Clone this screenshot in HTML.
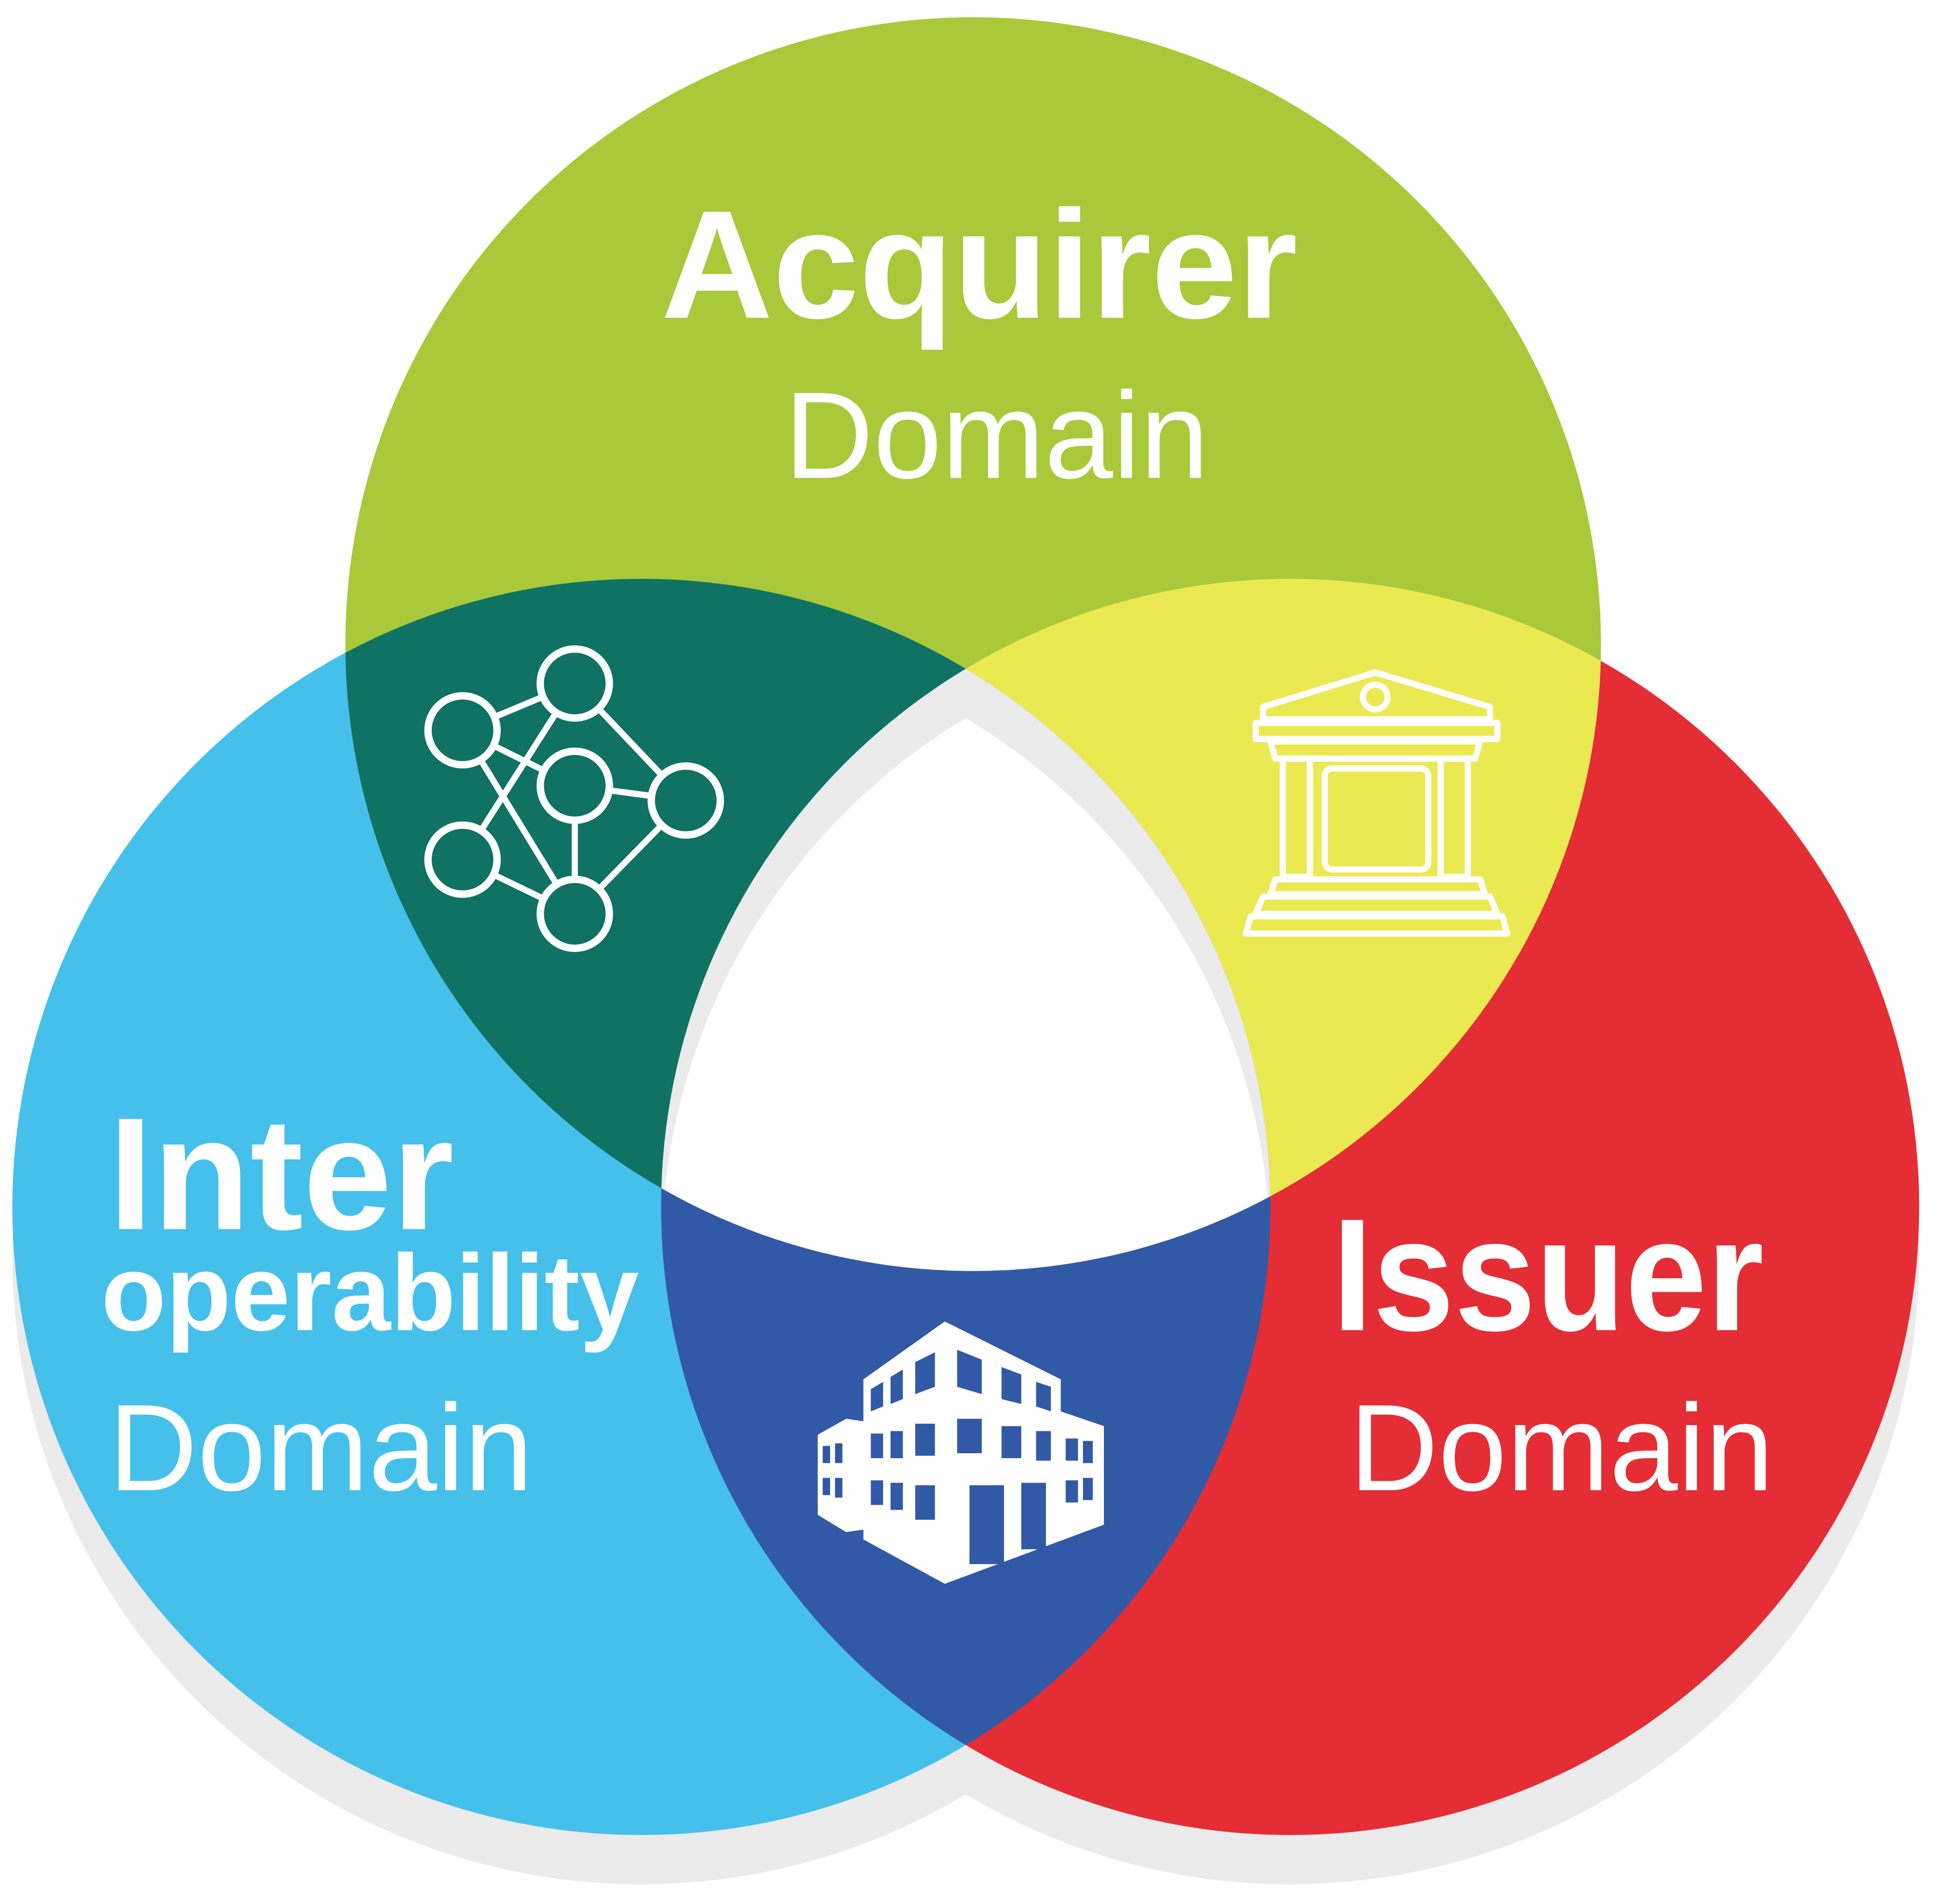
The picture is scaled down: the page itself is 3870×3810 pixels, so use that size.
<!DOCTYPE html>
<html><head><meta charset="utf-8"><style>
html,body{margin:0;padding:0;background:#fff;}
svg{display:block;}
text{font-family:"Liberation Sans",sans-serif;fill:#fff;}
</style></head><body>
<svg width="3870" height="3810" viewBox="0 0 1568 1546" preserveAspectRatio="none" xmlns="http://www.w3.org/2000/svg">
<defs>
<clipPath id="cG"><circle cx="789" cy="523" r="509"/></clipPath>
<clipPath id="cB"><circle cx="520" cy="980" r="510"/></clipPath>
<clipPath id="cR"><circle cx="1046" cy="980" r="510"/></clipPath>
</defs>
<g fill="#ebebeb">
<circle cx="520" cy="1020" r="510"/>
<circle cx="1046" cy="1020" r="510"/>
</g>
<circle cx="520" cy="980" r="510" fill="#45c0eb"/>
<circle cx="1046" cy="980" r="510" fill="#e42d35"/>
<circle cx="789" cy="523" r="509" fill="#a9c93a"/>
<g clip-path="url(#cB)"><circle cx="789" cy="523" r="509" fill="#0f7263"/></g>
<g clip-path="url(#cR)"><circle cx="789" cy="523" r="509" fill="#ebe952"/></g>
<g clip-path="url(#cB)"><circle cx="1046" cy="980" r="510" fill="#3259a6"/></g>
<g clip-path="url(#cG)"><g clip-path="url(#cB)"><circle cx="1046" cy="980" r="510" fill="#ebebeb"/>
<g transform="translate(0,40)"><g clip-path="url(#cG)"><g clip-path="url(#cB)"><circle cx="1046" cy="980" r="510" fill="#fff"/></g></g></g>
</g></g>

<text x="536" y="258" font-size="125" font-weight="bold" textLength="516" lengthAdjust="spacingAndGlyphs">Acquirer</text>
<text x="636" y="388" font-size="100" textLength="344" lengthAdjust="spacingAndGlyphs">Domain</text>
<text x="88" y="998" font-size="130" font-weight="bold" textLength="280" lengthAdjust="spacingAndGlyphs">Inter</text>
<text x="82" y="1080" font-size="88" font-weight="bold" textLength="436" lengthAdjust="spacingAndGlyphs">operability</text>
<text x="88" y="1210" font-size="100" textLength="344" lengthAdjust="spacingAndGlyphs">Domain</text>
<text x="1080" y="1080" font-size="130" font-weight="bold" textLength="350" lengthAdjust="spacingAndGlyphs">Issuer</text>
<text x="1094" y="1210" font-size="100" textLength="344" lengthAdjust="spacingAndGlyphs">Domain</text>

<!-- network icon -->
<g stroke="#fff" stroke-width="5" fill="none">
<line x1="375" y1="593" x2="466" y2="555"/><line x1="466" y1="555" x2="556" y2="650"/>
<line x1="466" y1="555" x2="375" y2="698"/><line x1="375" y1="593" x2="466" y2="638"/>
<line x1="375" y1="593" x2="466" y2="742"/><line x1="466" y1="638" x2="556" y2="650"/>
<line x1="466" y1="638" x2="466" y2="742"/><line x1="375" y1="698" x2="466" y2="742"/>
<line x1="556" y1="650" x2="466" y2="742"/>
</g>
<g stroke="#fff" stroke-width="6" fill="#0f7263">
<circle cx="375" cy="593" r="28"/><circle cx="466" cy="555" r="28"/>
<circle cx="466" cy="638" r="28"/><circle cx="556" cy="650" r="28"/>
<circle cx="375" cy="698" r="28"/><circle cx="466" cy="742" r="28"/>
</g>

<!-- bank icon -->
<g stroke="#fff" stroke-width="5" fill="none" stroke-linejoin="round">
<polygon points="1024,574 1115,546 1208,574 1208,584 1024,584"/>
<circle cx="1115" cy="566" r="10"/>
<rect x="1018" y="587" width="196" height="13"/>
<polygon points="1030,602 1200,602 1196,616 1034,616"/>
<rect x="1040" y="616" width="22" height="96"/>
<rect x="1168" y="616" width="22" height="96"/>
<rect x="1074" y="624" width="84" height="82" rx="6"/>
<polygon points="1034,714 1200,714 1204,726 1030,726"/>
<polygon points="1024,728 1208,728 1214,742 1018,742"/>
<polygon points="1014,744 1218,744 1222,758 1010,758"/>
</g>

<!-- building icon -->
<polygon fill="#fff" points="700,1120 766,1073 860,1120 860,1146 895,1158 895,1238 766,1286 700,1250 700,1242 686,1244 663,1230 663,1165 686,1152 700,1154"/>
<g fill="#3259a6">
<polygon points="706,1128 716,1122 716,1142 706,1146"/>
<polygon points="722,1118 732,1112 732,1136 722,1140"/>
<polygon points="742,1106 758,1098 758,1126 742,1132"/>
<polygon points="776,1096 796,1104 796,1132 776,1126"/>
<polygon points="812,1110 828,1116 828,1140 812,1136"/>
<polygon points="840,1122 852,1126 852,1146 840,1142"/>
<rect x="706" y="1164" width="10" height="20"/><rect x="722" y="1162" width="10" height="22"/>
<rect x="742" y="1156" width="16" height="26"/><rect x="776" y="1152" width="20" height="28"/>
<rect x="812" y="1158" width="16" height="26"/><rect x="840" y="1162" width="12" height="24"/>
<rect x="864" y="1168" width="10" height="18"/><rect x="878" y="1170" width="8" height="18"/>
<rect x="706" y="1202" width="10" height="20"/><rect x="722" y="1204" width="10" height="22"/>
<rect x="742" y="1206" width="16" height="28"/>
<rect x="786" y="1206" width="28" height="64"/><rect x="828" y="1204" width="20" height="54"/>
<rect x="864" y="1202" width="10" height="18"/><rect x="878" y="1200" width="8" height="18"/>
<rect x="667" y="1174" width="6" height="14"/><rect x="677" y="1172" width="6" height="16"/>
<rect x="667" y="1200" width="6" height="14"/><rect x="677" y="1200" width="6" height="16"/>
</g>
</svg>
</body></html>
